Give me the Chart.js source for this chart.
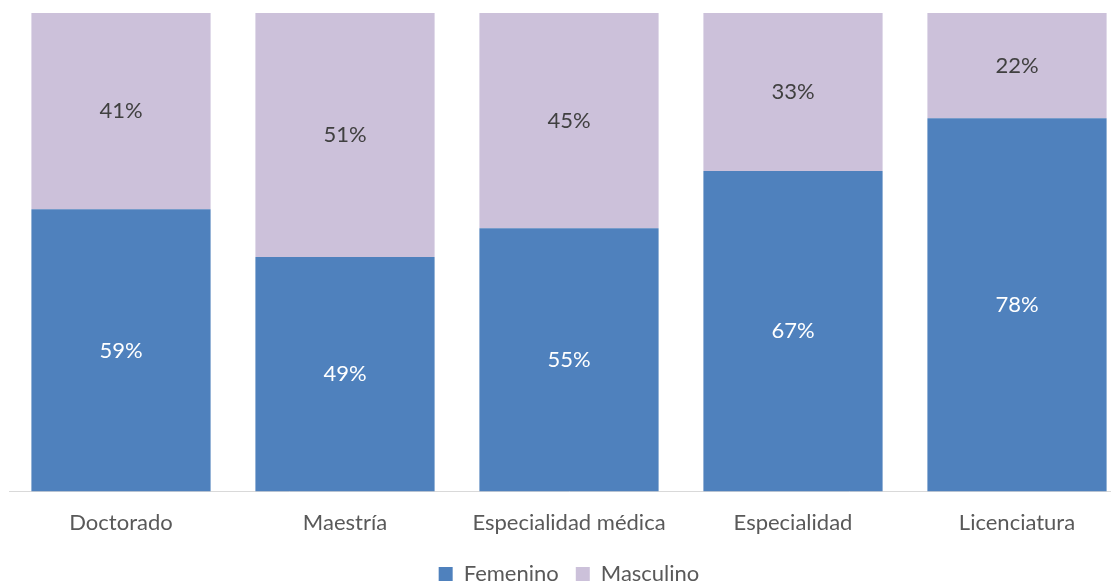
<!DOCTYPE html>
<html>
<head>
<meta charset="utf-8">
<script src="https://cdn.jsdelivr.net/npm/chart.js@4.4.0/dist/chart.umd.min.js"></script>
<style>
  html, body { margin: 0; padding: 0; background: #fff; overflow: hidden; }
  #wrap { width: 1140px; height: 595px; position: relative; }
</style>
</head>
<body>
<div id="wrap"><canvas id="c"></canvas></div>
<script>
const categories = ["Doctorado", "Maestría", "Especialidad médica", "Especialidad", "Licenciatura"];
const femenino = [59, 49, 55, 67, 78];
const masculino = [41, 51, 45, 33, 22];
const seriesNames = ["Femenino", "Masculino"];

const FONT = "Lato, 'Open Sans', sans-serif";

const labelPlugin = {
  id: 'barLabels',
  afterDatasetsDraw(chart) {
    const ctx = chart.ctx;
    ctx.save();
    ctx.font = "22px " + FONT;
    ctx.textAlign = 'center';
    ctx.textBaseline = 'middle';
    chart.data.datasets.forEach((ds, di) => {
      const meta = chart.getDatasetMeta(di);
      meta.data.forEach((bar, i) => {
        const y = (bar.y + bar.base) / 2;
        ctx.fillStyle = di === 0 ? '#ffffff' : '#404040';
        ctx.fillText(ds.data[i] + '%', bar.x, y);
      });
    });
    ctx.restore();
  }
};

new Chart(document.getElementById('c'), {
  type: 'bar',
  data: {
    labels: categories,
    datasets: [
      { label: seriesNames[0], data: femenino, backgroundColor: '#4F81BD', borderWidth: 0 },
      { label: seriesNames[1], data: masculino, backgroundColor: '#CCC1DA', borderWidth: 0 }
    ]
  },
  options: {
    responsive: true,
    maintainAspectRatio: false,
    animation: false,
    layout: { padding: { left: 9, right: 11, top: 13, bottom: 0 } },
    datasets: { bar: { categoryPercentage: 1.0, barPercentage: 0.8 } },
    scales: {
      x: {
        stacked: true,
        grid: { display: false },
        border: { display: true, color: '#d9d9d9', width: 1 },
        ticks: { color: '#595959', font: { size: 22, family: FONT }, padding: 10 }
      },
      y: {
        stacked: true,
        display: false,
        min: 0, max: 100
      }
    },
    plugins: {
      legend: {
        position: 'bottom',
        labels: {
          color: '#595959',
          font: { size: 22, family: FONT },
          boxWidth: 14, boxHeight: 14,
          padding: 17
        }
      },
      tooltip: { enabled: false }
    }
  },
  plugins: [labelPlugin]
});
</script>
</body>
</html>
